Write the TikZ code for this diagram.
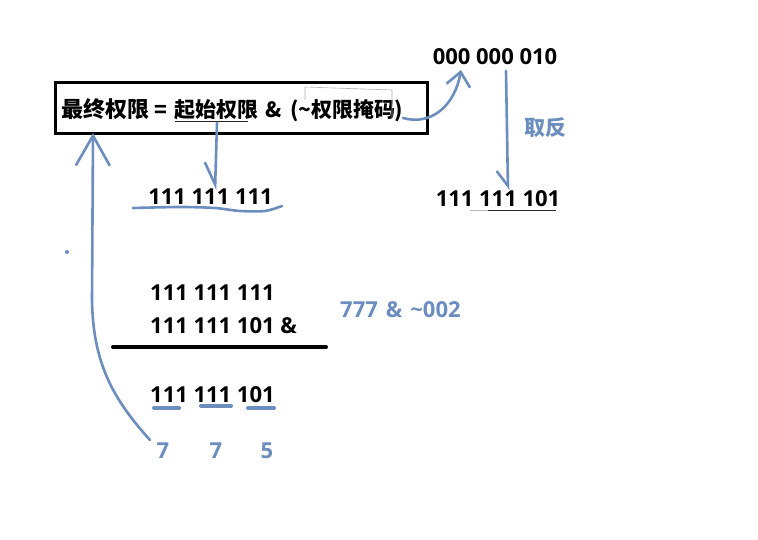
\documentclass[tikz,border=0pt]{standalone}
\usepackage{fontspec}
\setmainfont{Open Sans}
\newfontfamily\cjk{Noto Sans CJK SC}
\usetikzlibrary{arrows.meta}
\definecolor{pblue}{HTML}{6C8EBF}
\tikzset{
  num/.style={font=\bfseries\fontsize{22}{26}\selectfont, inner sep=0pt, anchor=base},
  bnum/.style={num, text=pblue},
  cjkt/.style={font=\cjk\bfseries\fontsize{21}{25}\selectfont, inner sep=0pt, anchor=base west},
  pen/.style={draw=pblue, line width=2.6pt, line cap=round, line join=round},
  bigtip/.style={-{Straight Barb[length=30pt,width=34pt]}},
  tip/.style={-{Straight Barb[length=14pt,width=24pt]}},
  halftip/.style={-{Straight Barb[harpoon,swap,length=#1,width=22pt]}},
}
\begin{document}
\begin{tikzpicture}[x=1pt,y=-1pt]
\fill[white] (0,0) rectangle (758,540);
\useasboundingbox (0,0) rectangle (758,540);

% box with formula
\node[draw, line width=3pt, minimum width=372pt, minimum height=51pt, inner sep=0pt] (box) at (241,108.5) {};
\node[cjkt, font=\cjk\bfseries\fontsize{22}{26}\selectfont] (t1) at (61,118) {最终权限};
\node[cjkt, anchor=base] (eq) at (161,118) {=};
\node[cjkt] (t2) at (174,118) {起始权限};
\node[cjkt, anchor=base] (amp) at (273.5,118) {\&};
\node[cjkt] (lp) at (290,118) {(\textasciitilde};
\node[cjkt] (t3) at (311,118) {权限掩码};
\node[cjkt] (rp) at (394,118) {)};
\draw[black!85, line width=0.9pt] (175,121) -- (248,121);
\draw[black!30, line width=0.6pt] (305,100) -- (305,87) -- (392,90) -- (392,118);

% numbers
\node[num] (n010) at (495,65) {000 000 010};
\node[num] (n101r) at (498,207) {111 111 101};
\node[num] (n111a) at (210.5,205) {111 111 111};
\node[num, anchor=base west] (n111b) at (150,300) {111 111 111};
\node[num, anchor=base west] (n101b) at (150,333) {111 111 101 \&};
\node[num, anchor=base west] (res) at (150,402) {111 111 101};
\node[bnum] (d1) at (163,458) {7};
\node[bnum] (d2) at (216,458) {7};
\node[bnum] (d3) at (267,458) {5};
\node[bnum, anchor=base west] (expr) at (340,317) {777\hspace{8pt}\&\hspace{8pt}\textasciitilde002};
\node[cjkt, text=pblue, anchor=center] (neg) at (545,128) {取反};

% underline right
\draw[black!30, line width=0.6pt] (470,210.5) -- (488,210.5);
\draw[black!85, line width=0.9pt] (488,210.5) -- (556,210.5);

% bar
\draw[line width=4pt, line cap=round] (113,347) -- (326,347);

% blue underlines
\draw[pen, line width=4pt] (154,408) -- (179,408);
\draw[pen, line width=4pt] (201,406) -- (231,406);
\draw[pen, line width=4pt] (248,408) -- (274,408);
\draw[pen] plot[smooth] coordinates {(133,208) (180,207) (215,208) (240,211) (265,211) (282,206)};
\fill[pblue] (67,252) circle (2pt);

% arrows
\coordinate (a1s) at (217,123);
\draw[pen, halftip=22pt] (a1s) -- ([xshift=4.5pt,yshift=-1pt]n111a.north);
\coordinate (a2s) at (403,118);
\coordinate (a2e) at (461,70);
\draw[pen, tip] (a2s) .. controls (432,126) and (455,105) .. (a2e);
\coordinate (a3s) at (506,71);
\draw[pen, halftip=15pt] (a3s) -- ([xshift=10pt,yshift=1pt]n101r.north);
\coordinate (a4s) at (150,440);
\coordinate (a4e) at (93,133);
\draw[pen, bigtip] (a4s) .. controls (112,398) and (93,362) .. (92,300) -- (a4e);
\end{tikzpicture}
\end{document}
